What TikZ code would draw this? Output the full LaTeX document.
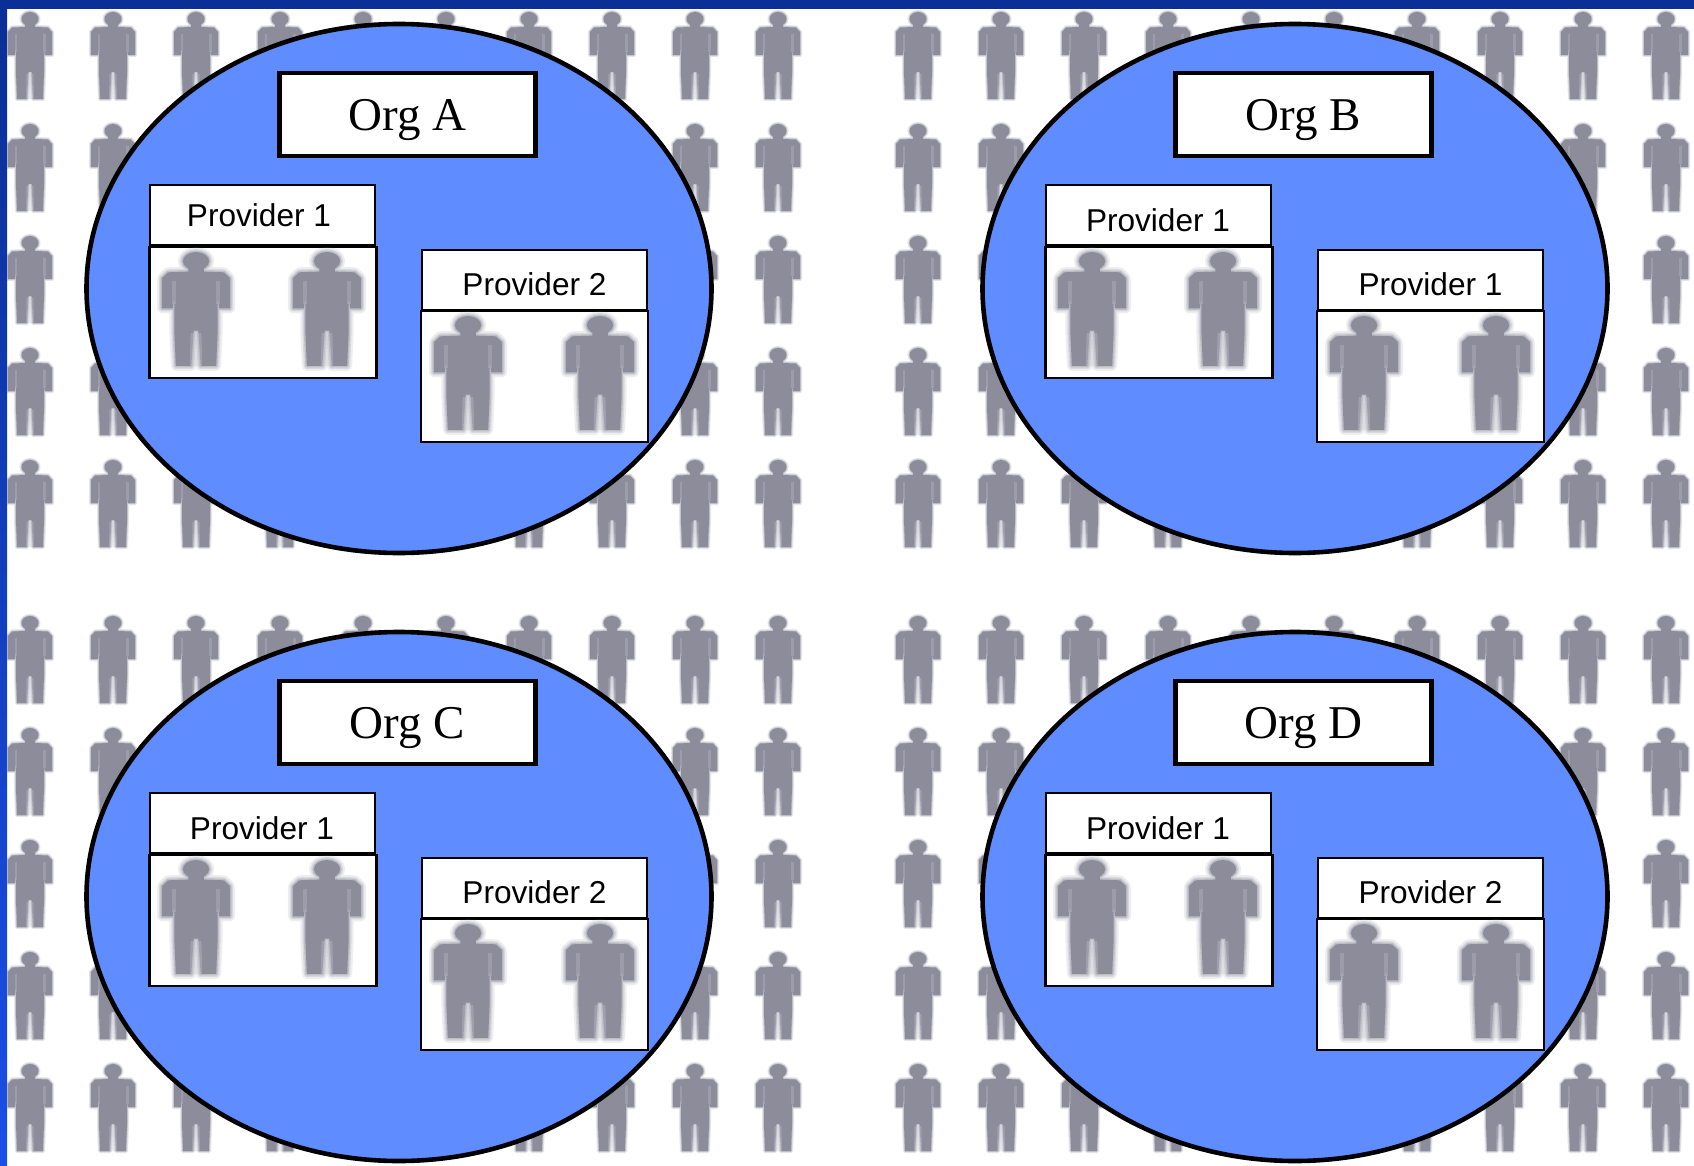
\documentclass[tikz,border=0pt]{standalone}
\usepackage{fontspec}
\setmainfont{Liberation Sans}
\newfontfamily\orgfont{Liberation Serif}
\usetikzlibrary{shapes.geometric}
\definecolor{orgblue}{HTML}{5F8DFF}
\definecolor{figgray}{HTML}{8C8C9B}
\definecolor{band}{HTML}{0A2F96}
\definecolor{bandlow}{HTML}{1A4FE6}
\definecolor{gapgray}{HTML}{C4C4D0}
\tikzset{
  orgcircle/.style={ellipse,draw=black,line width=4.6pt,fill=orgblue,minimum width=625pt,minimum height=529pt,inner sep=0pt,outer sep=0pt},
  orgtitle/.style={draw=black,line width=4.4pt,fill=white,minimum width=256pt,minimum height=83pt,inner sep=0pt,font=\orgfont\fontsize{47}{47}\selectfont},
  provlabel/.style={draw=black,line width=1.8pt,fill=white,minimum width=225pt,minimum height=60pt,inner sep=0pt},
  provtext/.style={inner sep=0pt,font=\fontsize{31.6}{32}\selectfont},
  provimage/.style={draw=black,line width=2.2pt,fill=white,minimum width=227pt,minimum height=131pt,inner sep=0pt},
}
% figure of a person, origin at top centre of head, 88 units tall
\newcommand{\figpath}{
  (0,7) ellipse (8.5 and 7)
  (-5,10) -- (5,10) -- (5,15) -- (18,15.5) -- (22,20) -- (22,43) -- (15,43) -- (14,36) -- (14,60) -- (13,87) -- (3,87) -- (1.5,60) -- (-1.5,60) -- (-3,87) -- (-13,87) -- (-14,60) -- (-14,36) -- (-15,43) -- (-22,43) -- (-22,20) -- (-18,15.5) -- (-5,15) -- cycle
}
\newcommand{\figdetail}{%
  \fill[gapgray,opacity=.35] (-3.5,62) -- (3.5,62) -- (4,87) -- (-4,87) -- cycle;
  \fill[gapgray,opacity=.3] (-15.5,22) rectangle (-13,40);
  \fill[gapgray,opacity=.3] (13,22) rectangle (15.5,40);
}
\newcommand{\smallfig}[2]{%
  \begin{scope}[shift={(#1,#2)}]
    \draw[figgray,opacity=.22,line width=4pt,line join=round] \figpath;
    \draw[figgray,opacity=.35,line width=1.8pt,line join=round] \figpath;
    \fill[figgray] \figpath;
    \figdetail
  \end{scope}}
\newcommand{\bigfig}[2]{%
  \begin{scope}[shift={(#1,#2)},xscale=1.55,yscale=1.31]
    \draw[figgray,opacity=.14,line width=10pt,line join=round] \figpath;
    \draw[figgray,opacity=.22,line width=6pt,line join=round] \figpath;
    \draw[figgray,opacity=.35,line width=3pt,line join=round] \figpath;
    \fill[figgray] \figpath;
    \figdetail
  \end{scope}}
% #1 dx, #2 dy, #3 name, #4 org letter, #5 #6 first label position, #7 second label
\newcommand{\orgblock}[7]{%
  \begin{scope}[shift={(#1,#2)}]
    \node[orgcircle] (#3c) at (399,288.5) {};
    \node[orgtitle] (#3t) at (407.5,114.5) {\raisebox{-16pt}[0pt][0pt]{Org #4}};
    \node[provlabel] (#3la) at (262.5,215) {};
    \node[provtext] (#3lat) at (#5,#6) {Provider 1};
    \node[provimage] (#3ia) at (263,312.5) {};
    \bigfig{196}{252}
    \bigfig{327}{252}
    \node[provlabel] (#3lb) at (534.5,280) {};
    \node[provtext] (#3lbt) at (534.5,284) {#7};
    \node[provimage] (#3ib) at (534.5,376.5) {};
    \bigfig{468}{316}
    \bigfig{600}{316}
  \end{scope}}
\begin{document}
\begin{tikzpicture}[x=1pt,y=-1pt]
\useasboundingbox (0,0) rectangle (1694,1166);
\fill[white] (0,0) rectangle (1694,1166);
\foreach \oy in {12,124,236,348,460,616,728,840,952,1064}{
  \foreach \cx in {30,113,196,280,363,446,529,612,695,778,918,1001,1084,1168,1251,1334,1417,1500,1583,1666}{
    \smallfig{\cx}{\oy}
  }
}
\fill[band] (0,0) rectangle (1694,9);
\shade[top color=band,bottom color=bandlow] (0,9) rectangle (7,1166);
\orgblock{0}{0}{a}{A}{259}{215}{Provider 2}
\orgblock{896}{0}{b}{B}{262}{220}{Provider 1}
\orgblock{0}{608}{c}{C}{262}{220}{Provider 2}
\orgblock{896}{608}{d}{D}{262}{220}{Provider 2}
\end{tikzpicture}
\end{document}
